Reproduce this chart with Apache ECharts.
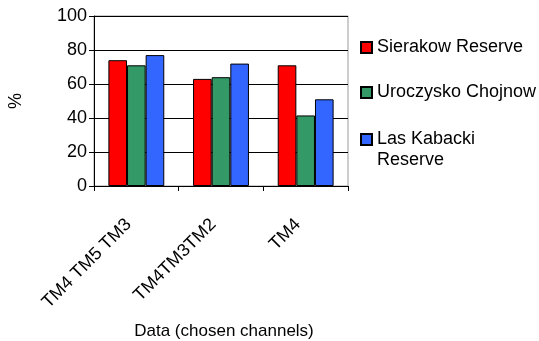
<!DOCTYPE html>
<html>
<head>
<meta charset="utf-8">
<script src="https://cdn.jsdelivr.net/npm/echarts@6/dist/echarts.min.js"></script>
<style>
  html, body { margin: 0; padding: 0; background: #fff; }
  #chart { width: 539px; height: 341px; }
</style>
</head>
<body>
<div id="chart"></div>
<script>
// Channel combinations on the category axis
const categories = ['TM4 TM5 TM3', 'TM4TM3TM2', 'TM4'];

// Accuracy (%) per study site
const sierakowReserve = [74, 63, 71];
const uroczyskoChojnow = [71, 64, 41.5];
const lasKabackiReserve = [77, 72, 51];

const yTicks = { min: 0, max: 100, interval: 20 };

const seriesNames = ['Sierakow Reserve', 'Uroczysko Chojnow', 'Las Kabacki Reserve'];
const seriesColors = ['#ff0000', '#339966', '#3366ff'];
const seriesValues = [sierakowReserve, uroczyskoChojnow, lasKabackiReserve];

const font = 'Liberation Sans, Arial, sans-serif';
const fs = 18;

const chart = echarts.init(document.getElementById('chart'), null, { renderer: 'canvas' });

// One legend block per series so each entry can sit at its own height
function legendFor(i, top, label) {
  return {
    orient: 'vertical',
    left: 360,
    top: top,
    itemWidth: 11,
    itemHeight: 11,
    itemGap: 0,
    padding: 0,
    selectedMode: false,
    icon: 'rect',
    data: [seriesNames[i]],
    formatter: () => label,
    textStyle: { fontFamily: font, fontSize: fs, color: '#000', lineHeight: 21 }
  };
}

chart.setOption({
  animation: false,
  backgroundColor: '#fff',
  grid: {
    left: 94, right: 191, top: 16, bottom: 155,
    show: true, borderColor: '#9a9a9a', borderWidth: 1
  },
  legend: [
    legendFor(0, 37, 'Sierakow Reserve'),
    legendFor(1, 82, 'Uroczysko Chojnow'),
    // blank first line keeps the marker level with "Las Kabacki"
    legendFor(2, 108, '\u00a0\nLas Kabacki\nReserve')
  ],
  xAxis: {
    type: 'category',
    data: categories,
    name: 'Data (chosen channels)',
    nameLocation: 'middle',
    nameGap: 137,
    nameTextStyle: { fontFamily: font, fontSize: 17, color: '#000', padding: [0, 0, 0, 6] },
    axisLine: { lineStyle: { color: '#000', width: 1 } },
    axisTick: { show: true, length: 5, alignWithLabel: false, lineStyle: { color: '#000' } },
    axisLabel: {
      rotate: 45, margin: 28, interval: 0, padding: [0, 11, 0, 0],
      fontFamily: font, fontSize: fs, color: '#000'
    }
  },
  yAxis: {
    type: 'value',
    min: yTicks.min, max: yTicks.max, interval: yTicks.interval,
    name: '%',
    nameLocation: 'middle',
    nameRotate: 90,
    nameGap: 69,
    nameTextStyle: { fontFamily: font, fontSize: fs, color: '#000' },
    axisLine: { show: true, lineStyle: { color: '#000', width: 1 } },
    axisTick: { show: true, length: 5, lineStyle: { color: '#000' } },
    axisLabel: { margin: 7, fontFamily: font, fontSize: fs, color: '#000' },
    splitLine: { show: true, lineStyle: { color: '#000', width: 1 } }
  },
  series: seriesValues.map((vals, i) => ({
    name: seriesNames[i],
    type: 'bar',
    data: vals,
    barGap: '0%',
    barCategoryGap: '34%',
    itemStyle: { color: seriesColors[i], borderColor: '#000', borderWidth: 1 }
  }))
});
</script>
</body>
</html>
